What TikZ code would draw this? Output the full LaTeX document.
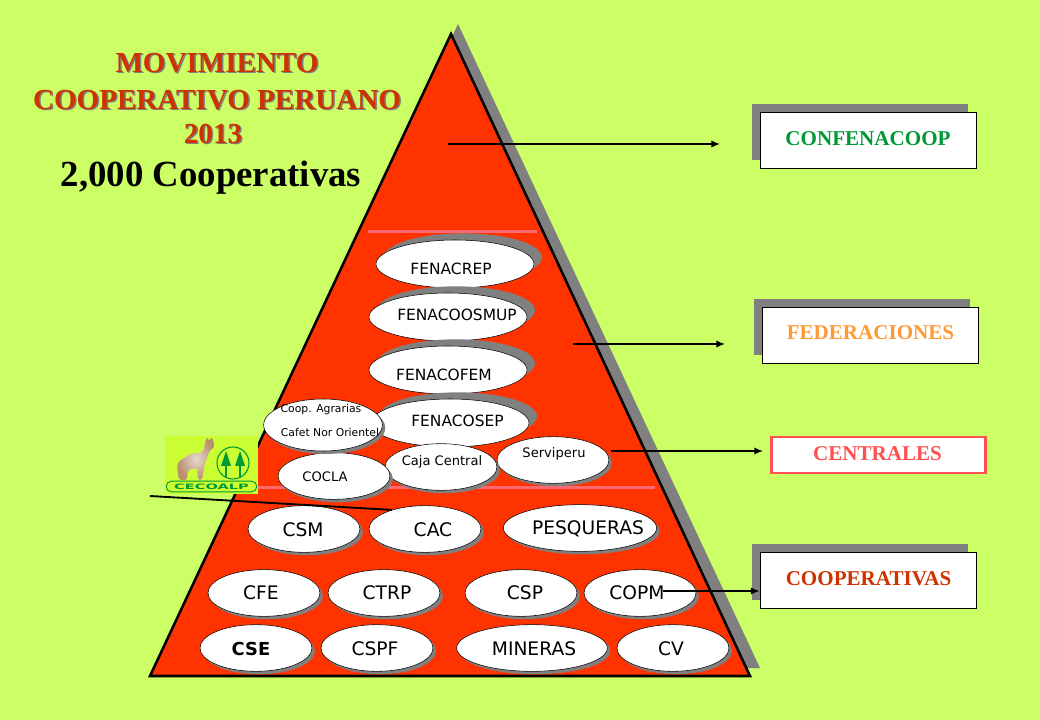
\documentclass[tikz,border=0pt]{standalone}
\usepackage{fontspec}
\setmainfont{Liberation Serif}
\setsansfont{DejaVu Sans}
\usepackage{tikz}
\usetikzlibrary{arrows.meta, shapes.geometric, shadows}
\definecolor{fondo}{HTML}{CCFF66}
\definecolor{fondologo}{HTML}{CCFF33}
\definecolor{rojo}{HTML}{FF3300}
\definecolor{ladrillo}{HTML}{CC3300}
\definecolor{rosa}{HTML}{FF5050}
\definecolor{rayarosa}{HTML}{FF6A70}
\definecolor{sombra}{HTML}{808080}
\definecolor{naranja}{HTML}{FF9933}
\definecolor{verde}{HTML}{009933}
\definecolor{lana}{HTML}{B98F6E}
\tikzset{
  oval/.style={draw=black, line width=.4pt, fill=white, ellipse, inner sep=0pt, minimum height=35pt,
    drop shadow={shadow xshift=2.2pt, shadow yshift=-2.2pt, fill=sombra, opacity=1}},
  ovaltop/.style={draw=black, line width=.4pt, fill=white, ellipse, inner sep=0pt, minimum height=36pt, minimum width=118.5pt,
    drop shadow={shadow xshift=6pt, shadow yshift=5pt, fill=sombra, opacity=1}},
  etq/.style={font=\sffamily\fontsize{14}{16}\selectfont, inner sep=0pt},
  etqsmall/.style={font=\sffamily\fontsize{11.6}{13}\selectfont, inner sep=0pt},
  etqtiny/.style={font=\sffamily\fontsize{9.8}{11}\selectfont, inner sep=0pt},
  etqmin/.style={font=\sffamily\fontsize{8.1}{10}\selectfont, inner sep=0pt},
  caja/.style={draw=black, line width=.6pt, fill=white, minimum width=162pt, minimum height=42pt, inner sep=0pt,
    drop shadow={shadow xshift=-6pt, shadow yshift=6pt, fill=sombra, opacity=1}},
  cajatxt/.style={inner sep=0pt, font=\bfseries\fontsize{15.8}{18}\selectfont},
  titulo/.style={font=\bfseries\fontsize{21.8}{24}\selectfont, inner sep=0pt},
  flecha/.style={-{Latex[length=6.5pt,width=5.5pt]}, line width=1.1pt, black}
}
\begin{document}
\begin{tikzpicture}[x=.75pt, y=-.75pt]
\useasboundingbox (0,0) rectangle (1040,720);
\fill[fondo] (0,0) rectangle (1040,720);
% piramide
\fill[sombra] (458,24) -- (760,668) -- (158,668) -- cycle;
\filldraw[fill=rojo, draw=black, line width=1.9pt, line join=miter] (451,34) -- (750,676) -- (150,676) -- cycle;
\fill[rayarosa] (368,230.5) rectangle (537,233.5);
\fill[rayarosa] (258,486.5) rectangle (655,489.5);
% titulo
\node[titulo, sombra] (t1s) at (218.5,64) {MOVIMIENTO};
\node[titulo, ladrillo] (t1) at (217,63) {MOVIMIENTO};
\node[titulo, sombra] (t2s) at (218.5,101) {COOPERATIVO PERUANO};
\node[titulo, ladrillo] (t2) at (217,100) {COOPERATIVO PERUANO};
\node[titulo, sombra] (t3s) at (214.5,135) {2013};
\node[titulo, ladrillo] (t3) at (213,134) {2013};
\node[inner sep=0pt, font=\bfseries\fontsize{27.6}{30}\selectfont] (total) at (211,178) {2,000 Cooperativas};
% federaciones
\node[ovaltop] (crep) at (455,264) {};
\node[etqsmall] (crept) at (451,269) {FENACREP};
\node[ovaltop] (smup) at (448,317) {};
\node[etqsmall] (smupt) at (457,315) {FENACOOSMUP};
\node[ovaltop] (fem) at (448,370) {};
\node[etqsmall] (femt) at (444,375) {FENACOFEM};
\node[ovaltop] (sep) at (450,423) {};
\node[etqsmall] (sept) at (457.5,421) {FENACOSEP};
% centrales
\node[oval, minimum width=84pt] (serv) at (553,460) {};
\node[etqtiny] (servt) at (554,454) {Serviperu};
\node[oval, minimum width=84pt] (caja) at (441,467) {};
\node[etqtiny] (cajat) at (442,462) {Caja Central};
\node[oval, minimum width=84pt] (cocla) at (334,476) {};
\node[etqtiny] (coclat) at (325,477) {COCLA};
\node[oval, minimum width=89pt, minimum height=39pt] (agra) at (323,425) {};
\node[etqmin] (agrat) at (321,410) {Coop. Agrarias};
\node[etqmin] (agrab) at (330,432) {Cafet Nor Orientel};
% cooperativas
\node[oval, minimum width=84pt] (csm) at (304,529) {};
\node[etq] (csmt) at (303,530) {CSM};
\node[oval, minimum width=84pt] (cac) at (425,529) {};
\node[etq] (cact) at (433,530) {CAC};
\node[oval, minimum width=115pt] (pesq) at (580,528) {};
\node[etq] (pesqt) at (588,529) {PESQUERAS};
\node[oval, minimum width=84pt] (cfe) at (264,593) {};
\node[etq] (cfet) at (261,593) {CFE};
\node[oval, minimum width=84pt] (ctrp) at (384,593) {};
\node[etq] (ctrpt) at (387,593) {CTRP};
\node[oval, minimum width=84pt] (csp) at (521,593) {};
\node[etq] (cspt) at (525,593) {CSP};
\node[oval, minimum width=84pt] (copm) at (640,593) {};
\node[etq] (copmt) at (637,593) {COPM};
\node[oval, minimum width=84pt] (cse) at (256,648) {};
\node[etq, font=\sffamily\bfseries\fontsize{13.4}{15}\selectfont] (cset) at (251,649) {CSE};
\node[oval, minimum width=84pt] (cspf) at (377,648) {};
\node[etq] (cspft) at (375,649) {CSPF};
\node[oval, minimum width=113pt] (min) at (532,648) {};
\node[etq] (mint) at (534,649) {MINERAS};
\node[oval, minimum width=84pt] (cv) at (673,648) {};
\node[etq] (cvt) at (671,649) {CV};
% logo
\fill[fondologo] (165,436) rectangle (258,494);
\shade[inner color=lana!35!white, outer color=lana, rounded corners=1.5pt] (178,462) -- (190,454) -- (203,452) -- (205,443) -- (207,437) -- (209,441) -- (212,437) -- (215,447) -- (210,450) -- (207,458) -- (205,463) -- (202,480) -- (198,480) -- (197,468) -- (188,470) -- (187,480) -- (179,480) -- (177,468) -- cycle;
\node[circle, draw=verde, line width=.8pt, minimum size=24pt, inner sep=0pt] (arbol) at (233,463) {};
\fill[verde] (226,451) -- (231,466) -- (221,466) -- cycle;
\fill[verde] (240,451) -- (245,466) -- (235,466) -- cycle;
\draw[verde, line width=.8pt] (226,460) -- (226,478);
\draw[verde, line width=.8pt] (240,460) -- (240,478);
\node[draw=verde, line width=.7pt, fill=fondologo, rounded corners=4pt, minimum width=68pt, minimum height=8pt, inner sep=0pt, text=verde, font=\sffamily\bfseries\fontsize{5.6}{6}\selectfont] (cecoalp) at (211.5,486.5) {\scalebox{1.95}[1]{CECOALP}};
% cajas
\node[caja] (confe) at (868,140) {};
\node[cajatxt, text=verde] (confet) at (868,139) {CONFENACOOP};
\node[caja] (fede) at (870,335) {};
\node[cajatxt, text=naranja] (fedet) at (870.5,333) {FEDERACIONES};
\node[draw=rosa, line width=2.2pt, fill=white, minimum width=161pt, minimum height=27pt, inner sep=0pt] (centr) at (878.5,455) {};
\node[cajatxt, text=rosa] (centrt) at (877.5,454) {CENTRALES};
\node[caja] (coope) at (868,580) {};
\node[cajatxt, text=ladrillo] (coopet) at (868.5,579) {COOPERATIVAS};
% flechas
\coordinate (a1) at (448,144);
\coordinate (a2) at (720,144);
\coordinate (b1) at (573,344);
\coordinate (b2) at (725,344);
\coordinate (c1) at (611,451);
\coordinate (c2) at (763,451);
\coordinate (d1) at (663,591);
\coordinate (e1) at (150,496);
\draw[flecha] (a1) -- (a2);
\draw[flecha] (b1) -- (b2);
\draw[flecha] (c1) -- (c2);
\draw[flecha] (d1) -- (coope.west |- d1);
\draw[black, line width=1.4pt] (e1) -- (cac.150);
\end{tikzpicture}
\end{document}
